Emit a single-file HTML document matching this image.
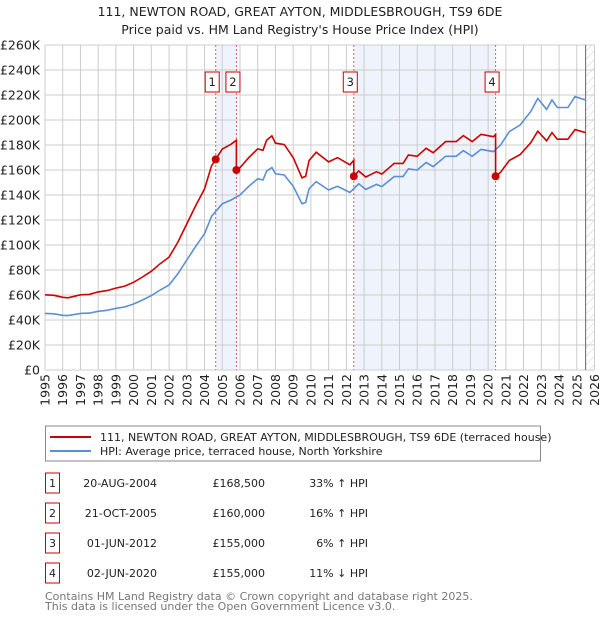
<!DOCTYPE html>
<html><head><meta charset="utf-8">
<style>
body{margin:0;background:#fff;font-family:"DejaVu Sans","Liberation Sans",sans-serif;}
svg text{font-family:"DejaVu Sans","Liberation Sans",sans-serif;}
</style></head>
<body>
<svg id="chart" width="600" height="620" viewBox="0 0 600 620">
<defs>
<pattern id="hatch" width="6" height="6" patternUnits="userSpaceOnUse" patternTransform="rotate(45)">
<line x1="0" y1="0" x2="0" y2="6" stroke="#ccc" stroke-width="1"/>
</pattern>
</defs>
<text x="300" y="16" text-anchor="middle" font-size="12.5" fill="#222">111, NEWTON ROAD, GREAT AYTON, MIDDLESBROUGH, TS9 6DE</text>
<text x="300" y="34" text-anchor="middle" font-size="12.5" fill="#222">Price paid vs. HM Land Registry's House Price Index (HPI)</text>
<g id="plot"></g>
<rect x="45.5" y="426" width="495" height="35" fill="#fff" stroke="#888" stroke-width="1"/>
<line x1="50" y1="437" x2="91" y2="437" stroke="#cc0000" stroke-width="2"/>
<text x="100" y="441" font-size="11" fill="#222">111, NEWTON ROAD, GREAT AYTON, MIDDLESBROUGH, TS9 6DE (terraced house)</text>
<line x1="50" y1="451" x2="91" y2="451" stroke="#5b8fd4" stroke-width="2"/>
<text x="100" y="455" font-size="11" fill="#222">HPI: Average price, terraced house, North Yorkshire</text>
<g id="table"></g>
<text x="45" y="600" font-size="11" fill="#777">Contains HM Land Registry data © Crown copyright and database right 2025.</text>
<text x="45" y="610" font-size="11" fill="#777">This data is licensed under the Open Government Licence v3.0.</text>
</svg>
<script>
const hpiYears=[1995,1995.5,1996,1996.3,1997,1997.5,1998,1998.5,1999,1999.5,2000,2000.5,2001,2001.5,2002,2002.5,2003,2003.5,2004,2004.4,2004.7,2005,2005.5,2006,2006.5,2007,2007.3,2007.5,2007.8,2008,2008.5,2009,2009.5,2009.7,2009.9,2010.3,2011,2011.5,2012.2,2012.7,2013.1,2013.7,2014,2014.7,2015.2,2015.5,2016,2016.5,2016.9,2017.6,2018.2,2018.6,2019.1,2019.6,2020.3,2020.7,2021.2,2021.8,2022.4,2022.8,2023.3,2023.6,2023.9,2024.5,2024.9,2025.5];
const hpiValues=[45.3,45,43.8,43.5,45.3,45.5,47,47.8,49.3,50.5,52.8,56,59.5,64,68,77,88,99,109,123,128,133,136,140,147,153,152,159,162,157,156,147,133,134,145,150.7,144,147,142,149,144.5,148.5,146.7,154.7,154.7,161,160,166,162.7,171,171,175.5,171,176.5,174.7,180,190.7,196,206.7,217.3,208.5,216,210,210,218.7,216];
const saleLabels=["1","2","3","4"];
const saleDates=["20-AUG-2004","21-OCT-2005","01-JUN-2012","02-JUN-2020"];
const saleYears=[2004.63,2005.8,2012.42,2020.42];
const salePrices=[168500,160000,155000,155000];
const salePriceText=["£168,500","£160,000","£155,000","£155,000"];
const saleHpiText=["33% ↑ HPI","16% ↑ HPI","6% ↑ HPI","11% ↓ HPI"];
const yTicks=[0,20,40,60,80,100,120,140,160,180,200,220,240,260];
const xTicks=[1995,1996,1997,1998,1999,2000,2001,2002,2003,2004,2005,2006,2007,2008,2009,2010,2011,2012,2013,2014,2015,2016,2017,2018,2019,2020,2021,2022,2023,2024,2025,2026];

const NS="http://www.w3.org/2000/svg";
const X0=45,X1=594.5,Y0=370,Y1=45;
const xs=y=>X0+(y-1995)/(2026-1995)*(X1-X0);
const ys=v=>Y0-v/260*(Y0-Y1);
const plot=document.getElementById('plot');
function mk(t,a,p){const e=document.createElementNS(NS,t);for(const k in a)e.setAttribute(k,a[k]);(p||plot).appendChild(e);return e;}
function hpiAt(y){if(y<=hpiYears[0])return hpiValues[0];for(let i=1;i<hpiYears.length;i++){if(y<=hpiYears[i]){const t=(y-hpiYears[i-1])/(hpiYears[i]-hpiYears[i-1]);return hpiValues[i-1]+t*(hpiValues[i]-hpiValues[i-1]);}}return hpiValues[hpiValues.length-1];}

// shaded spans
for(let i=0;i<saleYears.length;i+=2){
 const r=mk('rect',{x:xs(saleYears[i]),y:Y1,width:xs(saleYears[i+1])-xs(saleYears[i]),height:Y0-Y1,fill:'#eef3fc'});
 
 
}
// hatch future
const hx=xs(2025.5);
const hr=mk('rect',{x:hx,y:Y1,width:X1-hx,height:Y0-Y1,fill:'url(#hatch)'});


// grid
yTicks.forEach(v=>{
 const l=mk('line',{x1:X0,x2:X1,y1:ys(v),y2:ys(v),stroke:'#ccc','stroke-width':1});
 
 
 const t=mk('text',{x:40,y:ys(v)+4.5,'text-anchor':'end','font-size':12.5,fill:'#222'});
 t.textContent=v===0?'£0':'£'+v+'K';
 
 
});
xTicks.forEach(y=>{
 const l=mk('line',{x1:xs(y),x2:xs(y),y1:Y1,y2:Y0,stroke:'#ccc','stroke-width':1});
 
 
 const t=mk('text',{x:0,y:0,'text-anchor':'end','font-size':12.5,fill:'#222',transform:`translate(${xs(y)+4.5},374) rotate(-90)`});
 t.textContent=y;
 
 
});
const nl=mk('line',{x1:hx,x2:hx,y1:Y1,y2:Y0,stroke:'#666','stroke-width':1});


// sale lines and badges
saleYears.forEach((y,i)=>{
 const l=mk('line',{x1:xs(y),x2:xs(y),y1:Y1,y2:Y0,stroke:'#e06060','stroke-width':1,'stroke-dasharray':'2,2'});
 
 
 const cx=xs(y)-3.5;
 const b=mk('rect',{x:cx-7,y:72,width:14,height:20,fill:'#fff',stroke:'#cc0000','stroke-width':1});
 
 
 const t=mk('text',{x:cx,y:86,'text-anchor':'middle','font-size':11.5,fill:'#222'});
 t.textContent=saleLabels[i];
 
 
});
// HPI line
const bp=hpiYears.map((y,i)=>xs(y).toFixed(1)+','+ys(hpiValues[i]).toFixed(1)).join(' ');
const bl=mk('polyline',{points:bp,fill:'none',stroke:'#5b8fd4','stroke-width':1.6});


// property line: HPI scaled by sale ratios
const ratios=saleYears.map((y,i)=>salePrices[i]/1000/hpiAt(y));
let pts=[];
const allY=[...new Set(hpiYears.concat(saleYears))].sort((a,b)=>a-b);
allY.forEach(y=>{
 let k=0;for(let i=0;i<saleYears.length;i++){if(y>=saleYears[i])k=i;}
 if(saleYears.includes(y)&&saleYears.indexOf(y)>0){const j=saleYears.indexOf(y);pts.push([y,hpiAt(y)*ratios[j-1]]);}
 pts.push([y,hpiAt(y)*ratios[k]]);
});
const rl=mk('polyline',{points:pts.map(p=>xs(p[0]).toFixed(1)+','+ys(p[1]).toFixed(1)).join(' '),fill:'none',stroke:'#cc0000','stroke-width':1.6});


saleYears.forEach((y,i)=>{
 const c=mk('circle',{cx:xs(y),cy:ys(salePrices[i]/1000),r:4,fill:'#cc0000'});
 
 
});
// table
const tb=document.getElementById('table');
saleYears.forEach((y,i)=>{
 const cy=483+i*30;
 const b=mk('rect',{x:45.5,y:cy-10,width:14,height:20,fill:'#fff',stroke:'#cc0000','stroke-width':1},tb);
 
 
 const cells=[[52.5,'middle',saleLabels[i]],[157,'end',saleDates[i]],[265,'end',salePriceText[i]],[368,'end',saleHpiText[i]]];
 cells.forEach((c,j)=>{
  const t=mk('text',{x:c[0],y:cy+4,'text-anchor':c[1],'font-size':11,fill:'#222'},tb);
  t.textContent=c[2];
  
  
 });
});
</script>
</body></html>
